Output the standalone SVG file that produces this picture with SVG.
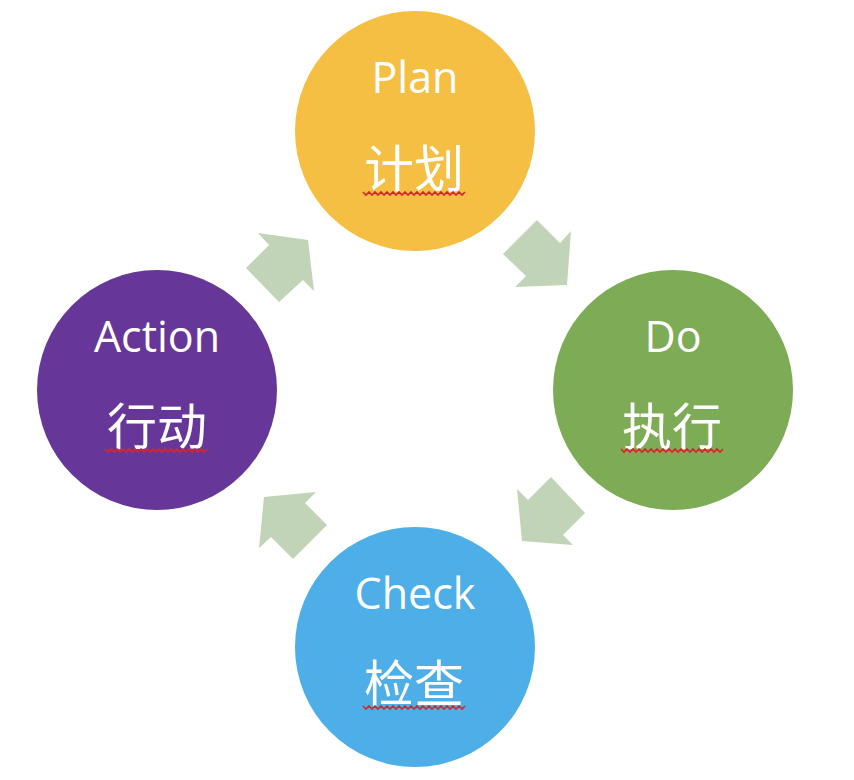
<svg xmlns="http://www.w3.org/2000/svg" width="854" height="780" viewBox="0 0 854 780">
<defs>
<style>
.lbl{font-family:"Open Sans","Noto Sans",sans-serif;font-size:43px;fill:#ffffff;text-anchor:middle}
.cjk{font-family:"Noto Sans CJK SC",sans-serif;font-size:50px;fill:#ffffff;text-anchor:middle}
.arrow{fill:#c1d4b7}
.sq{fill:none;stroke:#d6262b;stroke-width:1.6}
</style>
<path id="squig" d="M0,0 l3,3 l3,-3 l3,3 l3,-3 l3,3 l3,-3 l3,3 l3,-3 l3,3 l3,-3 l3,3 l3,-3 l3,3 l3,-3 l3,3 l3,-3 l3,3 l3,-3 l3,3 l3,-3 l3,3 l3,-3 l3,3 l3,-3 l3,3 l3,-3 l3,3 l3,-3 l3,3 l3,-3 l3,3 l3,-3 l3,3 l3,-3"/>
</defs>
<rect width="854" height="780" fill="#ffffff"/>
<g id="connectors">
<polygon class="arrow" points="503,254 537,220 560,243 571,231 567,285 515,287 526,276"/>
<polygon class="arrow" points="517,489 528,500 551,477 585,513 563,535 573,545 522,541"/>
<polygon class="arrow" points="264,497 316,492 305,503 327,525 293,559 271,537 259,548"/>
<polygon class="arrow" points="258,233 308,240 314,291 303,280 279,302 246,268 269,245"/>
</g>
<g id="plan">
<circle cx="415" cy="131" r="120" fill="#f4bf42"/>
<text class="lbl" x="415" y="93">Plan</text>
<text class="cjk" x="414" y="187">计划</text>
<use href="#squig" class="sq" x="363" y="192"/>
</g>
<g id="do">
<circle cx="673" cy="390" r="120" fill="#7eab55"/>
<text class="lbl" x="673" y="352">Do</text>
<text class="cjk" x="672" y="445">执行</text>
<use href="#squig" class="sq" x="621" y="449"/>
</g>
<g id="check">
<circle cx="415" cy="647" r="120" fill="#4daee8"/>
<text class="lbl" x="415" y="609">Check</text>
<text class="cjk" x="414" y="702">检查</text>
<use href="#squig" class="sq" x="363" y="706"/>
</g>
<g id="action">
<circle cx="157" cy="390" r="120" fill="#663799"/>
<text class="lbl" x="157" y="352">Action</text>
<text class="cjk" x="157" y="445">行动</text>
<use href="#squig" class="sq" x="105" y="449"/>
</g>
</svg>
